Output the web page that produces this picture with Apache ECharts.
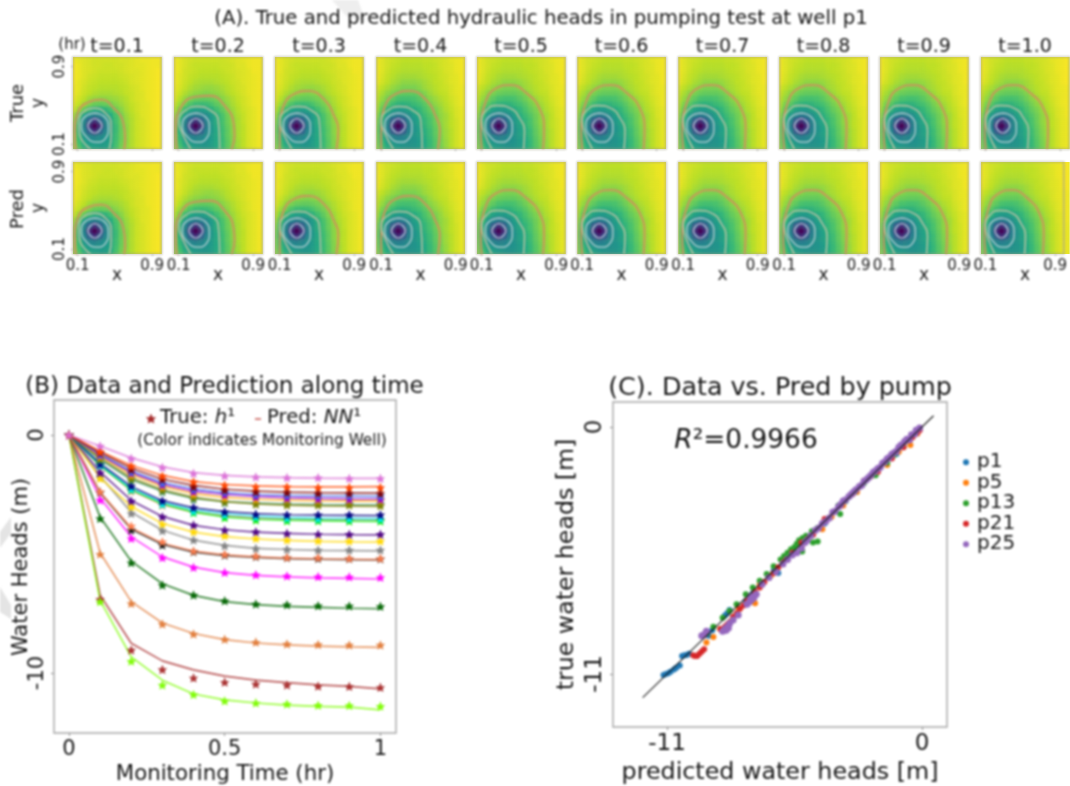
<!DOCTYPE html>
<html><head><meta charset="utf-8">
<script src="https://cdn.jsdelivr.net/npm/echarts@6/dist/echarts.min.js"></script>
<style>html,body{margin:0;padding:0;background:#fff}
#heatClip{position:absolute;left:0;top:0;width:1070px;height:786px;background:#d6e02c}
#heat{width:1070px;height:786px;filter:blur(1.6px)}
#main{position:absolute;left:0;top:0;width:1070px;height:786px;filter:blur(0.8px)}</style>
</head><body><div id="heatClip"><div id="heat"></div></div><div id="main"></div>
<script>
// ---------- (A) head fields: 18 rows top to bottom, 18 columns left to right, 0 = viridis dark, 100 = viridis yellow
const fieldEarly = [
[97,96,95,94,94,94,94,94,94,95,95,96,96,97,97,98,98,99],
[98,96,95,94,93,93,93,93,93,94,94,95,96,97,97,98,98,99],
[99,97,95,94,93,93,92,92,93,93,94,95,96,96,97,98,98,99],
[99,97,95,94,93,92,92,92,92,93,94,95,95,96,97,98,99,99],
[99,97,95,93,92,91,91,91,91,92,93,94,95,96,97,98,99,99],
[99,96,94,92,91,90,90,90,90,91,92,94,95,96,97,98,99,99],
[98,96,93,91,90,89,89,89,89,90,91,93,94,96,97,98,99,99],
[98,95,92,90,88,87,87,87,88,89,91,92,94,95,97,98,99,99],
[97,93,90,86,84,83,83,84,85,87,89,92,94,95,97,98,99,99],
[95,91,86,81,77,76,77,79,82,85,88,91,93,95,96,98,99,99],
[93,85,76,68,62,61,64,70,77,82,87,90,93,95,96,98,99,99],
[87,74,58,48,44,46,53,61,71,79,85,89,92,95,96,98,99,99],
[83,66,47,30,16,30,46,57,69,78,84,88,92,94,96,98,99,99],
[80,64,44,14,0,14,43,55,67,77,83,88,92,94,96,98,99,99],
[79,64,47,30,16,31,46,56,67,77,83,88,92,94,96,98,99,99],
[80,67,53,46,44,47,51,58,68,77,83,88,92,94,96,98,99,99],
[81,70,59,54,52,52,54,59,69,78,83,88,92,94,96,98,99,99],
[83,73,63,58,56,54,55,60,70,79,84,88,92,94,96,98,99,99]];
const fieldMid = [
[97,96,95,94,93,93,93,93,93,93,94,94,95,96,97,98,98,99],
[98,96,94,93,92,92,92,92,92,92,93,94,95,96,97,98,98,99],
[98,96,94,92,91,91,91,91,91,92,92,93,95,95,97,98,98,99],
[98,96,93,92,91,90,90,90,90,91,92,93,94,95,96,98,98,99],
[98,95,93,91,90,89,89,89,89,90,91,92,94,95,96,97,98,99],
[98,95,92,90,88,87,87,87,88,89,90,92,93,95,96,97,98,99],
[97,94,91,88,86,85,84,84,85,87,89,91,93,94,96,97,98,99],
[96,92,88,85,83,82,81,82,83,85,88,90,92,94,96,97,98,99],
[95,89,84,80,77,76,76,77,79,82,85,88,91,93,95,97,98,99],
[92,85,78,72,68,67,68,71,75,79,83,87,90,93,95,97,98,99],
[89,79,68,60,56,55,58,63,69,75,81,85,89,92,94,96,98,99],
[85,71,56,47,43,44,48,55,63,71,78,84,88,91,94,96,98,99],
[82,64,46,29,15,28,44,54,62,70,77,83,87,91,94,96,98,98],
[79,62,43,14,0,14,42,53,61,69,76,82,87,90,94,96,98,98],
[78,62,46,29,15,30,45,53,60,68,75,82,87,90,94,96,98,98],
[79,65,52,45,43,45,49,54,60,67,75,81,87,90,94,96,98,98],
[80,68,58,53,51,50,51,55,60,67,74,81,86,90,94,96,98,98],
[82,71,62,58,54,52,52,54,60,66,74,80,86,90,94,96,98,98]];
const fieldLate = [
[97,95,94,93,92,91,91,91,91,92,92,93,94,95,96,97,98,99],
[98,95,93,92,91,90,90,90,90,91,91,92,93,94,96,97,98,99],
[98,95,93,91,90,89,89,89,89,90,90,91,93,94,95,97,98,99],
[98,95,92,90,89,88,88,88,88,89,90,91,92,94,95,97,98,99],
[98,94,91,89,87,86,86,86,87,88,89,90,92,93,95,96,98,99],
[97,93,90,87,85,83,83,83,84,86,88,90,91,93,95,96,98,99],
[94,90,87,84,82,80,80,80,82,85,87,89,91,92,94,96,97,98],
[92,87,83,80,77,76,76,76,78,81,85,88,90,91,94,96,97,98],
[90,84,79,75,71,70,70,71,74,78,82,85,88,90,93,95,97,98],
[88,80,74,68,64,63,64,67,70,74,79,83,86,89,92,95,97,98],
[86,75,64,57,54,54,57,61,65,71,76,80,84,88,91,94,96,98],
[83,69,54,46,42,44,49,56,62,68,73,78,83,86,90,94,96,98],
[80,63,45,28,14,28,44,53,59,65,71,77,83,86,90,93,96,97],
[78,61,43,14,0,14,42,51,57,64,70,76,82,86,90,93,96,97],
[77,61,45,28,14,28,44,51,56,62,68,75,81,85,89,93,96,97],
[78,64,51,44,42,44,48,51,55,61,67,74,80,85,89,93,96,97],
[79,67,57,52,50,49,49,51,54,60,66,73,79,84,89,93,96,97],
[81,70,61,56,53,51,50,51,53,59,65,72,78,84,89,93,96,97]];
const viridis = ['#440154','#482475','#414487','#355f8d','#2a788e','#21918c','#22a884','#44bf70','#7ad151','#bddf26','#fde725'];

// contour lines, [x, y]
const outer01 = [[.08,.05],[.07,.22],[.10,.42],[.23,.54],[.35,.56],[.49,.47],[.59,.32],[.61,.15],[.60,.05]];
const outer02 = [[.08,.05],[.07,.25],[.13,.49],[.29,.59],[.44,.60],[.60,.49],[.69,.32],[.70,.19],[.67,.05]];
const outer03 = [[.10,.05],[.10,.26],[.14,.49],[.26,.62],[.41,.65],[.59,.55],[.68,.40],[.73,.25],[.71,.05]];
const outer10 = [[.10,.05],[.09,.23],[.14,.53],[.26,.68],[.41,.71],[.59,.62],[.72,.47],[.77,.25],[.76,.05]];
const second01 = [[.24,.05],[.12,.20],[.11,.335],[.17,.44],[.28,.47],[.40,.42],[.46,.30],[.46,.19],[.44,.05]];
const second03 = [[.23,.05],[.14,.21],[.10,.345],[.16,.44],[.30,.49],[.44,.45],[.525,.345],[.54,.05]];
const second10 = [[.21,.05],[.14,.19],[.10,.345],[.15,.45],[.26,.50],[.41,.47],[.50,.38],[.56,.23],[.55,.05]];
const ringA = [[.28,.42],[.39,.38],[.43,.27],[.39,.15],[.30,.12],[.19,.18],[.14,.29],[.175,.38],[.28,.42]];
const ringB = [[.285,.365],[.335,.34],[.36,.29],[.335,.24],[.285,.215],[.235,.24],[.21,.29],[.235,.34],[.285,.365]];

const panelTimes = ['t=0.1','t=0.2','t=0.3','t=0.4','t=0.5','t=0.6','t=0.7','t=0.8','t=0.9','t=1.0'];
const fieldByTime = [fieldEarly,fieldMid,fieldMid,fieldLate,fieldLate,fieldLate,fieldLate,fieldLate,fieldLate,fieldLate];
const outerByTime = [outer01,outer02,outer03,outer03,outer10,outer10,outer10,outer10,outer10,outer10];
const secondByTime = [second01,second03,second03,second03,second10,second10,second10,second10,second10,second10];
const panelLefts = [73,174,275,376.5,477,577.5,678.5,779.5,880,981];
const rowTops = [57,162];

// ---------- (B) heads against time
const hours = [0,.1,.2,.3,.4,.5,.6,.7,.8,.9,1];
const trueBrown = [0,-6.9,-9.03,-9.85,-10.2,-10.38,-10.46,-10.5,-10.55,-10.56,-10.6];
const predBrown = [0,-6.72,-8.75,-9.49,-9.87,-10.13,-10.3,-10.4,-10.5,-10.56,-10.67];
const trueLawn = [0,-7.0,-9.5,-10.5,-10.9,-11.17,-11.25,-11.3,-11.35,-11.36,-11.39];
const predLawn = [0,-6.95,-9.32,-10.3,-10.88,-11.13,-11.26,-11.35,-11.4,-11.43,-11.55];
const trueSandy = [0,-5.0,-7.07,-7.94,-8.36,-8.58,-8.7,-8.78,-8.8,-8.82,-8.82];
const predSandy = [0,-4.95,-7.0,-7.9,-8.34,-8.6,-8.74,-8.82,-8.87,-8.9,-8.92];
const trueDarkGreen = [0,-3.5,-5.36,-6.3,-6.72,-6.96,-7.1,-7.13,-7.17,-7.18,-7.2];
const predDarkGreen = [0,-3.45,-5.3,-6.25,-6.74,-7.0,-7.13,-7.2,-7.24,-7.28,-7.3];
const trueMagenta = [0,-2.73,-4.34,-5.15,-5.56,-5.77,-5.87,-5.92,-5.95,-5.96,-5.98];
const predMagenta = [0,-2.65,-4.28,-5.12,-5.55,-5.78,-5.9,-5.96,-6.0,-6.02,-6.05];
const trueCoral = [0,-2.38,-3.82,-4.48,-4.87,-5.01,-5.08,-5.14,-5.15,-5.18,-5.18];
const predCoral = [0,-2.4,-3.9,-4.55,-4.88,-5.04,-5.12,-5.17,-5.2,-5.22,-5.24];
const trueBlack = [0,-2.4,-3.99,-4.62,-4.9,-5.04,-5.1,-5.15,-5.18,-5.19,-5.2];
const predBlack = [0,-2.42,-3.96,-4.6,-4.92,-5.07,-5.14,-5.19,-5.22,-5.24,-5.25];
const trueGray = [0,-1.75,-3.29,-4.02,-4.41,-4.65,-4.76,-4.8,-4.83,-4.83,-4.83];
const predGray = [0,-1.72,-3.25,-4.0,-4.42,-4.64,-4.76,-4.81,-4.85,-4.86,-4.87];
const trueGold = [0,-1.82,-3.01,-3.74,-4.06,-4.23,-4.34,-4.41,-4.44,-4.45,-4.45];
const predGold = [0,-1.8,-3.0,-3.72,-4.08,-4.27,-4.37,-4.43,-4.47,-4.49,-4.5];
const trueIndigo = [0,-1.58,-2.77,-3.43,-3.78,-3.99,-4.06,-4.13,-4.16,-4.17,-4.17];
const predIndigo = [0,-1.55,-2.75,-3.42,-3.8,-3.98,-4.08,-4.13,-4.17,-4.19,-4.2];
const trueSalmon = [0,-1.3,-2.35,-2.95,-3.2,-3.42,-3.5,-3.55,-3.57,-3.58,-3.58];
const predSalmon = [0,-1.3,-2.33,-2.93,-3.24,-3.4,-3.48,-3.53,-3.55,-3.56,-3.56];
const trueLime = [0,-1.26,-2.31,-2.91,-3.26,-3.47,-3.57,-3.6,-3.6,-3.61,-3.61];
const predLime = [0,-1.28,-2.3,-2.9,-3.24,-3.44,-3.54,-3.58,-3.6,-3.62,-3.63];
const trueCyan = [0,-1.28,-2.28,-2.9,-3.2,-3.36,-3.45,-3.5,-3.52,-3.52,-3.52];
const predCyan = [0,-1.25,-2.26,-2.84,-3.15,-3.32,-3.42,-3.47,-3.5,-3.51,-3.52];
const trueNavy = [0,-1.22,-2.14,-2.76,-3.04,-3.22,-3.32,-3.35,-3.35,-3.35,-3.35];
const predNavy = [0,-1.2,-2.16,-2.76,-3.06,-3.22,-3.3,-3.35,-3.37,-3.38,-3.39];
const trueSeaGreen = [0,-1.05,-1.9,-2.38,-2.7,-2.84,-2.87,-2.87,-2.88,-2.88,-2.88];
const predSeaGreen = [0,-1.03,-1.88,-2.36,-2.66,-2.8,-2.86,-2.9,-2.92,-2.93,-2.93];
const trueOlive = [0,-.98,-1.82,-2.31,-2.62,-2.8,-2.9,-2.94,-2.94,-2.94,-2.97];
const predOlive = [0,-.96,-1.8,-2.3,-2.62,-2.8,-2.9,-2.95,-2.98,-2.99,-3.0];
const trueOrange = [0,-.9,-1.68,-2.17,-2.48,-2.63,-2.7,-2.7,-2.73,-2.73,-2.74];
const predOrange = [0,-.88,-1.66,-2.16,-2.46,-2.62,-2.7,-2.74,-2.76,-2.77,-2.77];
const trueViolet = [0,-.85,-1.6,-2.1,-2.37,-2.52,-2.6,-2.65,-2.68,-2.7,-2.7];
const predViolet = [0,-.84,-1.58,-2.08,-2.36,-2.5,-2.58,-2.63,-2.66,-2.68,-2.69];
const trueRoyal = [0,-.82,-1.55,-2.02,-2.27,-2.4,-2.5,-2.53,-2.54,-2.55,-2.56];
const predRoyal = [0,-.8,-1.52,-2.0,-2.26,-2.42,-2.5,-2.54,-2.56,-2.57,-2.58];
const trueMaroon = [0,-.74,-1.44,-1.86,-2.17,-2.31,-2.38,-2.41,-2.44,-2.44,-2.45];
const predMaroon = [0,-.73,-1.4,-1.86,-2.12,-2.28,-2.36,-2.4,-2.42,-2.43,-2.44];
const trueOrangeRed = [0,-.7,-1.3,-1.72,-1.96,-2.1,-2.17,-2.17,-2.2,-2.2,-2.2];
const predOrangeRed = [0,-.68,-1.28,-1.7,-1.96,-2.08,-2.14,-2.17,-2.18,-2.18,-2.17];
const trueOrchid = [0,-.46,-.98,-1.36,-1.61,-1.71,-1.76,-1.79,-1.79,-1.82,-1.82];
const predOrchid = [0,-.46,-.96,-1.34,-1.58,-1.7,-1.76,-1.79,-1.81,-1.82,-1.82];
const trueWells = [trueBrown,trueLawn,trueSandy,trueDarkGreen,trueMagenta,trueBlack,trueCoral,trueGray,trueGold,trueIndigo,trueSalmon,trueLime,trueCyan,trueNavy,trueSeaGreen,trueOlive,trueOrange,trueViolet,trueRoyal,trueMaroon,trueOrangeRed,trueOrchid];
const predWells = [predBrown,predLawn,predSandy,predDarkGreen,predMagenta,predBlack,predCoral,predGray,predGold,predIndigo,predSalmon,predLime,predCyan,predNavy,predSeaGreen,predOlive,predOrange,predViolet,predRoyal,predMaroon,predOrangeRed,predOrchid];
const wellColors = ['#a52a2a','#7cfc00','#e07b39','#006400','#ff00ff','#111111','#ff7f50','#808080','#ffd700','#4b0082','#fa8072','#00ee00','#00e5ee','#000080','#2e8b57','#808000','#ffa500','#9400d3','#4169e1','#800000','#ff4500','#da70d6'];

// ---------- (C) predicted against true, [pred, true]
const pumpNames = ['p1','p5','p13','p21','p25'];
const pumpColors = ['#1f77b4','#ff7f0e','#2ca02c','#d62728','#9467bd'];
const p1 = [[-11.15,-11.05],[-11.05,-11],[-10.95,-10.97],[-10.85,-10.9],[-10.7,-10.8],[-10.6,-10.72],[-10.45,-10.62],[-10.35,-10.2],[-10.25,-10.17],[-10.15,-10.15],[-10.05,-10.1],[-9.2,-9.3],[-9.05,-9.05],[-8.5,-8.4],[-8.4,-8.3],[-8.3,-8.15],[-7.6,-7.75],[-7.3,-7.4],[-6.2,-6.5],[-6.4,-6.4],[-5.2,-5.25],[-4.2,-4.3],[-3.3,-3.3],[-2.2,-2.2],[-1.1,-1.2],[-.4,-.4]];
const p5 = [[-9.3,-9.6],[-9,-9.35],[-8.7,-9],[-8.2,-8.6],[-7.9,-8.1],[-7.4,-7.7],[-7.2,-7.85],[-7,-7],[-6.5,-6.6],[-6,-6.1],[-5.2,-5.3],[-4.3,-4.55],[-3.9,-4],[-3.4,-3.5],[-2.8,-2.9],[-2.2,-2.2],[-1.5,-1.7],[-1,-1.1],[-.5,-.8],[-.2,-.3],[-.8,-.9]];
const p13 = [[-9.3,-9.2],[-9,-8.9],[-8.6,-8.5],[-8.3,-8.2],[-8,-7.9],[-7.6,-7.45],[-7.3,-7.15],[-7,-6.85],[-6.7,-6.55],[-6.4,-6.2],[-6.1,-5.9],[-5.95,-5.75],[-5.8,-5.6],[-5.65,-5.45],[-5.5,-5.35],[-5.4,-5.2],[-5.3,-5.05],[-5.15,-4.95],[-5,-4.85],[-4.75,-4.65],[-4.5,-4.5],[-4.5,-5.1],[-4.7,-5.15],[-5.17,-5.55],[-3.6,-3.5],[-3.3,-3.3],[-3.53,-3.88],[-2.9,-2.9],[-2.5,-2.5],[-2,-2.15],[-1.5,-1.6],[-1.2,-1.25],[-.8,-.85]];
const p21 = [[-9.87,-10.16],[-9.8,-10.2],[-9.7,-10.2],[-9.6,-10.1],[-9.5,-10],[-9.4,-9.9],[-8.7,-9],[-8.5,-8.9],[-8.4,-8.8],[-8.3,-8.7],[-8.15,-8.45],[-8,-8.3],[-7.85,-8.1],[-7.7,-7.95],[-7.55,-7.75],[-7.4,-7.55],[-7.2,-7.35],[-7,-7.15],[-6.8,-6.9],[-6.6,-6.7],[-6.4,-6.5],[-6.2,-6.25],[-6,-6.05],[-5.85,-5.9],[-5.6,-5.6],[-5.2,-5.15],[-4.95,-5],[-4.7,-4.8],[-4.2,-4.1],[-3.5,-3.5],[-3,-3],[-2.5,-2.4],[-1.9,-2],[-1.3,-1.4],[-.8,-.9],[-.5,-.55],[-.4,-.45],[-.3,-.3],[-.2,-.25],[-.1,-.15]];
const p25 = [[-9.5,-9.3],[-9.4,-9.25],[-9.3,-9.1],[-8.6,-9.1],[-8.5,-9],[-8.45,-9.05],[-8.4,-8.9],[-8.3,-8.75],[-8.35,-8.95],[-8.15,-8.6],[-7.93,-8.37],[-7.55,-7.9],[-7.45,-7.8],[-7.35,-7.7],[-7.4,-7.55],[-7.25,-7.6],[-7.15,-7.45],[-6.9,-7],[-6.6,-6.7],[-6.3,-6.45],[-6,-6.1],[-5.8,-5.9],[-5.6,-5.7],[-5.4,-5.6],[-5.2,-5.4],[-5.05,-5.15],[-4.95,-5.05],[-4.8,-4.85],[-4.6,-4.6],[-4.45,-4.5],[-4.3,-4.3],[-4.15,-4.2],[-4,-4.05],[-3.85,-3.8],[-3.75,-3.75],[-3.6,-3.55],[-3.5,-3.45],[-3.4,-3.3],[-3.3,-3.25],[-3.15,-3.1],[-3.05,-3],[-2.95,-2.9],[-2.85,-2.8],[-2.7,-2.65],[-2.6,-2.6],[-2.5,-2.42],[-2.4,-2.35],[-2.3,-2.25],[-2.2,-2.15],[-2.1,-2.02],[-2,-1.95],[-1.9,-1.85],[-1.8,-1.8],[-1.7,-1.62],[-1.6,-1.55],[-1.5,-1.42],[-1.4,-1.35],[-1.3,-1.22],[-1.2,-1.15],[-1.1,-1.08],[-1,-.9],[-.9,-.8],[-.75,-.65],[-.65,-.55],[-.55,-.58],[-.45,-.35],[-.3,-.3],[-.25,-.15],[-.1,-.05]];
const pumps = [p1,p5,p13,p21,p25];
const identityLine = [[-12.05,-12.05],[.5,.5]];

// ---------- build
const FONT = '"DejaVu Sans"';
const INK = '#161616';
const STAR = 'path://M0,-10 L2.9,-3.1 L9.5,-3.1 L4.7,1.5 L5.9,8.1 L0,4.5 L-5.9,8.1 L-4.7,1.5 L-9.5,-3.1 L-2.9,-3.1 Z';
const grid=[], xAxis=[], yAxis=[], series=[], graphic=[];
const heatGrid=[], heatX=[], heatY=[], heatSeries=[];
const cells = Array.from({length:18},(_,i)=>String(i));

function text(str,x,y,size,opt){
  opt=opt||{};
  graphic.push({type:'text',x:x,y:y,rotation:opt.rot||0,silent:true,z:50,style:Object.assign({text:str,font:size+'px '+FONT,fill:INK,align:opt.align||'center',verticalAlign:'middle'},opt.style||{})});
}
function addLine(ax,data,color,width,op){
  series.push({type:'line',xAxisIndex:ax,yAxisIndex:ax,data:data,smooth:0.5,showSymbol:false,silent:true,z:6,lineStyle:{color:color,width:width,opacity:op||1}});
}
let clipPath='';
rowTops.forEach((top,row)=>{
  panelLefts.forEach((left,col)=>{
    clipPath+=`M${left} ${top}h88.5v92h-88.5z`;
    const h=heatGrid.length;
    heatGrid.push({left:left-2,top:top-5,width:95.5,height:99,show:false});
    heatX.push({gridIndex:h,type:'category',data:cells,show:false});
    heatY.push({gridIndex:h,type:'category',data:cells,show:false});
    const d=[];
    fieldByTime[col].forEach((r,ri)=>r.forEach((v,ci)=>d.push([ci,17-ri,v])));
    heatSeries.push({type:'heatmap',xAxisIndex:h,yAxisIndex:h,data:d,silent:true,itemStyle:{borderWidth:0}});
    const ax=grid.length;
    grid.push({left:left,top:top,width:88.5,height:92,show:true,z:4,backgroundColor:'transparent',borderColor:'#a8a68a',borderWidth:1.2});
    const bottom=row===1, first=col===0;
    xAxis.push({gridIndex:ax,type:'value',min:.05,max:1,splitLine:{show:false},axisLine:{show:false,onZero:false},
      axisTick:{show:true,length:2,lineStyle:{color:'#999'},customValues:[.1,.9]},
      axisLabel:{show:bottom,customValues:[.1,.9],fontFamily:FONT,fontSize:15,color:INK,margin:5}});
    yAxis.push({gridIndex:ax,type:'value',min:.05,max:1,splitLine:{show:false},axisLine:{show:false,onZero:false},
      axisTick:{show:first,length:2,lineStyle:{color:'#999'},customValues:[.1,.9]},
      axisLabel:{show:first,customValues:[.1,.9],rotate:90,fontFamily:FONT,fontSize:15,color:INK,margin:5}});
    if(bottom) text('x',left+44,276,17);
    addLine(ax,outerByTime[col],'#d0905c',1.8);
    addLine(ax,secondByTime[col],'#bcc2a4',1.5);
    addLine(ax,ringA,'#bcd0d6',1.3);
    addLine(ax,ringB,'#c8d8e4',1.2);
  });
});
text('y',39,103,17,{rot:Math.PI/2});
text('y',39,208,17,{rot:Math.PI/2});
// panel B
const gB=grid.length;
grid.push({left:54,top:400,width:342,height:333,show:true,z:4,backgroundColor:'transparent',borderColor:'#a6a6a6',borderWidth:1.4});
xAxis.push({gridIndex:gB,type:'value',min:-.048,max:1.05,splitLine:{show:false},axisLine:{show:false,onZero:false},
  axisTick:{show:true,length:3,lineStyle:{color:'#888'},customValues:[0,.5,1]},
  axisLabel:{customValues:[0,.5,1],fontFamily:FONT,fontSize:21,color:INK,margin:6},
  name:'Monitoring Time (hr)',nameLocation:'middle',nameGap:31,nameTextStyle:{fontFamily:FONT,fontSize:21.3,color:INK}});
yAxis.push({gridIndex:gB,type:'value',min:-12.52,max:1.47,splitLine:{show:false},axisLine:{show:false,onZero:false},
  axisTick:{show:true,length:3,lineStyle:{color:'#888'},customValues:[0,-10]},
  axisLabel:{customValues:[0,-10],rotate:90,fontFamily:FONT,fontSize:21,color:INK,margin:6}});
text('Water Heads (m)',22,567,21,{rot:Math.PI/2});
trueWells.forEach((w,i)=>{
  series.push({type:'line',xAxisIndex:gB,yAxisIndex:gB,data:predWells[i].map((v,k)=>[hours[k],v]),showSymbol:false,silent:true,z:5,lineStyle:{color:wellColors[i],width:1.7,opacity:.75}});
  series.push({type:'scatter',xAxisIndex:gB,yAxisIndex:gB,data:w.map((v,k)=>[hours[k],v]),symbol:STAR,symbolSize:9.5,silent:true,z:5,itemStyle:{color:wellColors[i],opacity:.95}});
});
// panel C
const gC=grid.length;
grid.push({left:613,top:402,width:334,height:325,show:true,z:4,backgroundColor:'transparent',borderColor:'#a6a6a6',borderWidth:1.4});
xAxis.push({gridIndex:gC,type:'value',min:-13.33,max:1.08,splitLine:{show:false},axisLine:{show:false,onZero:false},
  axisTick:{show:true,length:3,lineStyle:{color:'#888'},customValues:[-11,0]},
  axisLabel:{customValues:[-11,0],fontFamily:FONT,fontSize:23,color:INK,margin:6},
  name:'predicted water heads [m]',nameLocation:'middle',nameGap:34,nameTextStyle:{fontFamily:FONT,fontSize:23.8,color:INK}});
yAxis.push({gridIndex:gC,type:'value',min:-13.36,max:1.11,splitLine:{show:false},axisLine:{show:false,onZero:false},
  axisTick:{show:true,length:3,lineStyle:{color:'#888'},customValues:[0,-11]},
  axisLabel:{customValues:[0,-11],rotate:90,fontFamily:FONT,fontSize:23,color:INK,margin:6},
  name:'true water heads [m]',nameLocation:'middle',nameRotate:90,nameGap:34,nameTextStyle:{fontFamily:FONT,fontSize:23.7,color:INK}});
pumps.forEach((p,i)=>{
  series.push({name:pumpNames[i],type:'scatter',xAxisIndex:gC,yAxisIndex:gC,data:p,symbol:'circle',symbolSize:i===4?7:6,silent:true,z:5,itemStyle:{color:pumpColors[i],opacity:1}});
});
series.push({type:'line',xAxisIndex:gC,yAxisIndex:gC,data:identityLine,showSymbol:false,silent:true,z:6,lineStyle:{color:'#111',width:1.2,opacity:.9}});

// texts
text('(A). True and predicted hydraulic heads in pumping test at well p1',541,19,19.7);
panelTimes.forEach((t,i)=>text(t,panelLefts[i]+44,47,19));
text('(hr)',72,45,15);
text('True',18,103,18,{rot:Math.PI/2});
text('Pred',18,209,18,{rot:Math.PI/2});
text('(B) Data and Prediction along time',224.5,387,23);
text('(C). Data vs. Pred by pump',780,388,25.4);
text('{a|True: }{i|h}{a|¹}',160,418,19.7,{align:'left',style:{rich:{a:{font:'19.7px '+FONT,fill:INK},i:{font:'italic 19.7px '+FONT,fill:INK}}}});
text('{a|Pred: }{i|NN}{a|¹}',267,418,19.7,{align:'left',style:{rich:{a:{font:'19.7px '+FONT,fill:INK},i:{font:'italic 19.7px '+FONT,fill:INK}}}});
text('(Color indicates Monitoring Well)',262,441,15.3);
text('{i|R}{a|²=0.9966}',746,441,26.4,{style:{rich:{a:{font:'26.4px '+FONT,fill:INK},i:{font:'italic 26.4px '+FONT,fill:INK}}}});
// legend glyphs of panel B
graphic.push({type:'polygon',silent:true,z:50,x:151,y:419,scaleX:.55,scaleY:.55,shape:{points:[[0,-10],[2.9,-3.1],[9.5,-3.1],[4.7,1.5],[5.9,8.1],[0,4.5],[-5.9,8.1],[-4.7,1.5],[-9.5,-3.1],[-2.9,-3.1]]},style:{fill:'#a52a2a'}});
graphic.push({type:'line',silent:true,z:50,shape:{x1:255,y1:419,x2:261,y2:419},style:{stroke:'#c8605a',lineWidth:1.6}});
// faint watermark strokes of the source image
graphic.push({type:'polygon',silent:true,z:-1,shape:{points:[[0,532],[11,517],[11,533],[0,548]]},style:{fill:'#e4e4e4'}});
graphic.push({type:'polygon',silent:true,z:-1,shape:{points:[[0,587],[11,605],[11,619],[0,612]]},style:{fill:'#e4e4e4'}});
graphic.push({type:'polygon',silent:true,z:-1,shape:{points:[[332,0],[358,0],[366,22],[346,16]]},style:{fill:'#eeeeee'}});

document.getElementById('heatClip').style.clipPath=`path("${clipPath}")`;
const heat=echarts.init(document.getElementById('heat'),null,{renderer:'canvas'});
heat.setOption({animation:false,grid:heatGrid,xAxis:heatX,yAxis:heatY,series:heatSeries,
  visualMap:{show:false,type:'continuous',min:0,max:100,dimension:2,inRange:{color:viridis}}});
const chart=echarts.init(document.getElementById('main'),null,{renderer:'canvas'});
chart.setOption({
  animation:false,backgroundColor:'transparent',textStyle:{fontFamily:FONT},
  grid,xAxis,yAxis,series,graphic,
  legend:{data:pumpNames,orient:'vertical',left:958,top:447,icon:'circle',itemWidth:6,itemHeight:6,itemGap:0,selectedMode:false,
    textStyle:{fontFamily:FONT,fontSize:20,color:INK,padding:[0,0,0,3],lineHeight:20.5}}
});
</script></body></html>
